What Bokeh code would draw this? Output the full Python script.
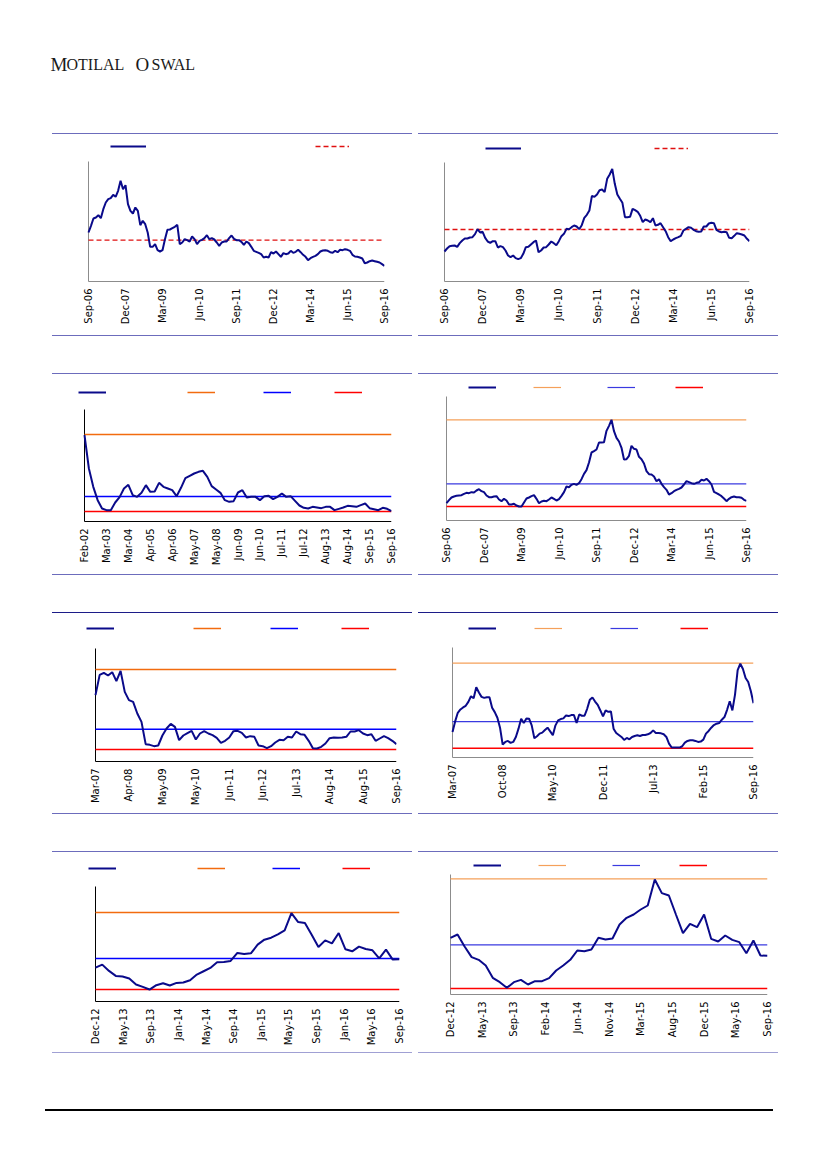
import math
from bokeh.plotting import figure
from bokeh.models import Range1d, FixedTicker, Legend, LegendItem, Spacer, LinearAxis
from bokeh.layouts import column, row
from bokeh.core.properties import value
from bokeh.embed import file_html
from bokeh.resources import INLINE

# ---------------- data ----------------
ticks_sep06 = ["Sep-06", "Dec-07", "Mar-09", "Jun-10", "Sep-11", "Dec-12", "Mar-14", "Jun-15", "Sep-16"]
ticks_p3 = ["Feb-02", "Mar-03", "Mar-04", "Apr-05", "Apr-06", "May-07", "May-08", "Jun-09", "Jun-10",
            "Jul-11", "Jul-12", "Aug-13", "Aug-14", "Sep-15", "Sep-16"]
ticks_p5 = ["Mar-07", "Apr-08", "May-09", "May-10", "Jun-11", "Jun-12", "Jul-13", "Aug-14", "Aug-15", "Sep-16"]
ticks_p6 = ["Mar-07", "Oct-08", "May-10", "Dec-11", "Jul-13", "Feb-15", "Sep-16"]
ticks_p7 = ["Dec-12", "May-13", "Sep-13", "Jan-14", "May-14", "Sep-14", "Jan-15", "May-15", "Sep-15",
            "Jan-16", "May-16", "Sep-16"]
ticks_p8 = ["Dec-12", "May-13", "Sep-13", "Feb-14", "Jun-14", "Nov-14", "Mar-15", "Aug-15", "Dec-15",
            "May-16", "Sep-16"]

p1_values = [147, 167, 189, 192, 199, 190, 217, 237, 247, 250,
             260, 254, 272, 302, 277, 289, 232, 212, 204, 222,
             212, 169, 182, 172, 147, 104, 104, 112, 94, 90,
             94, 127, 155, 156, 160, 164, 170, 112, 117, 127,
             124, 120, 135, 127, 112, 122, 125, 130, 139, 127,
             130, 126, 117, 107, 117, 120, 120, 130, 138, 128,
             124, 124, 119, 110, 120, 115, 104, 92, 89, 86,
             82, 72, 74, 72, 88, 84, 90, 82, 74, 85,
             82, 84, 92, 86, 89, 95, 88, 80, 74, 64,
             70, 74, 77, 82, 90, 93, 94, 92, 88, 86,
             92, 88, 95, 94, 97, 95, 92, 80, 75, 74,
             72, 69, 55, 57, 61, 63, 61, 59, 57, 52,
             47]
p1_avg = 124

p2_values = [90, 99, 106, 107, 108, 104, 115, 123, 129, 129,
             132, 133, 142, 157, 147, 149, 131, 120, 116, 121,
             121, 102, 106, 103, 93, 78, 73, 78, 70, 67,
             70, 83, 103, 104, 111, 118, 123, 88, 93, 102,
             103, 111, 120, 115, 109, 121, 136, 143, 158, 157,
             163, 168, 165, 157, 169, 191, 200, 213, 257, 254,
             261, 274, 276, 268, 308, 321, 338, 293, 261, 248,
             236, 193, 193, 194, 218, 214, 209, 197, 178, 186,
             183, 178, 190, 168, 170, 175, 163, 151, 133, 121,
             126, 130, 133, 137, 153, 158, 163, 161, 155, 151,
             149, 150, 165, 165, 174, 176, 175, 155, 150, 148,
             149, 148, 131, 130, 137, 145, 143, 141, 138, 128,
             121]
p2_avg = 156

p3_values = [259, 159, 104, 64, 39, 34, 34, 57, 73, 99,
             110, 79, 74, 86, 109, 89, 90, 116, 104, 99,
             94, 76, 101, 130, 137, 144, 149, 152, 134, 106,
             96, 86, 64, 59, 61, 87, 94, 72, 74, 74,
             64, 76, 77, 67, 74, 84, 74, 76, 62, 48,
             41, 39, 44, 42, 40, 44, 44, 34, 38, 42,
             47, 46, 44, 49, 54, 40, 37, 34, 41, 38,
             31]
p3_max, p3_avg, p3_min = 261, 75, 30

p4_values = [52, 61, 69, 72, 74, 75, 76, 80, 83, 82,
             85, 84, 90, 94, 88, 85, 75, 70, 70, 72,
             73, 63, 58, 65, 60, 48, 48, 50, 45, 42,
             42, 54, 66, 69, 73, 76, 65, 52, 57, 59,
             58, 63, 69, 65, 60, 64, 74, 85, 102, 100,
             107, 110, 107, 112, 124, 140, 151, 174, 204, 208,
             213, 234, 234, 235, 269, 284, 302, 268, 248, 237,
             218, 183, 184, 194, 224, 215, 213, 191, 184, 171,
             148, 139, 138, 132, 118, 124, 110, 100, 92, 78,
             82, 88, 92, 95, 99, 108, 118, 115, 112, 110,
             113, 115, 122, 120, 125, 118, 108, 86, 82, 78,
             73, 66, 58, 65, 70, 72, 70, 70, 68, 62,
             59]
p4_max, p4_avg, p4_min = 302, 110, 42

p5_values = [199, 260, 266, 258, 268, 241, 272, 209, 184, 179,
             144, 119, 52, 50, 46, 48, 78, 99, 113, 104,
             64, 78, 85, 92, 66, 84, 91, 84, 79, 71,
             56, 62, 72, 91, 92, 86, 72, 76, 74, 48,
             46, 40, 46, 57, 65, 64, 74, 72, 90, 82,
             80, 62, 40, 39, 44, 54, 70, 72, 71, 72,
             74, 90, 90, 94, 84, 79, 82, 62, 69, 76,
             70, 62, 52]
p5_max, p5_avg, p5_min = 276, 97, 36

p6_values = [77, 109, 135, 145, 151, 156, 168, 185, 179, 212,
             196, 183, 180, 182, 182, 150, 137, 120, 90, 39,
             47, 50, 44, 47, 62, 87, 117, 104, 118, 117,
             97, 58, 64, 72, 75, 83, 90, 79, 67, 97,
             112, 116, 118, 127, 125, 128, 128, 104, 130, 126,
             126, 147, 174, 181, 169, 159, 142, 124, 142, 138,
             139, 87, 74, 68, 62, 53, 59, 55, 62, 65,
             67, 65, 68, 68, 70, 74, 82, 74, 74, 73,
             70, 62, 42, 30, 30, 30, 30, 34, 45, 50,
             52, 52, 50, 47, 48, 54, 72, 80, 90, 98,
             102, 104, 114, 122, 144, 170, 142, 190, 264, 283,
             267, 240, 228, 200, 164]
p6_max, p6_avg, p6_min = 285, 108, 28

p7_values = [102, 111, 92, 77, 75, 69, 51, 44, 36, 49,
             55, 48, 56, 57, 64, 81, 91, 101, 118, 119,
             122, 146, 143, 145, 171, 186, 192, 202, 214, 266,
             239, 236, 201, 164, 184, 175, 206, 157, 151, 165,
             158, 154, 130, 156, 126, 127]
p7_max, p7_avg, p7_min = 268, 129, 36

p8_values = [170, 180, 144, 112, 104, 87, 50, 37, 20, 37,
             44, 30, 40, 40, 49, 72, 87, 104, 132, 130,
             135, 170, 165, 168, 210, 230, 240, 255, 267, 345,
             304, 297, 240, 184, 212, 202, 240, 167, 159, 177,
             164, 157, 124, 162, 117, 116]
p8_max, p8_avg, p8_min = 347, 149, 18

# ---------------- styling ----------------
NAVY = "#0a0a8a"
ORANGE_L, BLUE_L, RED = "#f26b0f", "#0000ff", "#ff0000"
ORANGE_R, BLUE_R = "#f5a05a", "#3a3ae0"
SEP = "#6c6cbc"
SEP_DARK = "#1c1c88"
FONT = "DejaVu Sans"


def make_panel(values, xs, ticks_pos, tick_labels, ytop, fig_box, chart_box,
               axis_color, refs, leg_y, leg_specs):
    fx, fy, fw, fh = fig_box
    ax_l, ax_r, ax_t, ax_b = chart_box
    # frame covers the chart plus the legend row above it
    fr_l = min([ax_l] + [lx for lx, _ in leg_specs]) - 2
    fr_r = ax_r
    fr_t = leg_y - 4
    fr_b = ax_b + 2
    upp_x = (xs[-1] - xs[0]) / (ax_r - ax_l)
    upp_y = ytop / (ax_b - ax_t)
    p = figure(width=fw, height=fh, output_backend="svg", toolbar_location=None,
               x_range=Range1d(xs[0] - (ax_l - fr_l) * upp_x, xs[-1]),
               y_range=Range1d(-(fr_b - ax_b) * upp_y, (ax_b - fr_t) * upp_y),
               min_border_left=fr_l - fx, min_border_right=fx + fw - fr_r,
               min_border_top=fr_t - fy, min_border_bottom=fy + fh - fr_b,
               x_axis_type=None, y_axis_type=None)
    p.outline_line_color = None
    p.background_fill_color = "white"
    xa = LinearAxis(ticker=FixedTicker(ticks=ticks_pos),
                    major_label_overrides={t: lab for t, lab in zip(ticks_pos, tick_labels)},
                    major_tick_in=0, major_tick_out=0, minor_tick_in=0, minor_tick_out=0,
                    major_label_orientation=math.pi / 2, major_label_standoff=5,
                    axis_line_color=None,
                    major_label_text_font=FONT, major_label_text_font_size="10px",
                    major_label_text_color="#000000")
    p.add_layout(xa, "below")
    # axis lines of the chart area
    p.segment(x0=[xs[0], xs[0]], y0=[0, 0], x1=[xs[0], xs[-1]], y1=[ytop, 0],
              line_color=axis_color, line_width=1)

    rends = []
    for level, color, lw, dash in refs:
        r = p.line([xs[0], xs[-1]], [level, level], line_color=color, line_width=lw, line_dash=dash)
        rends.append(r)
    main = p.line(xs, values, line_color=NAVY, line_width=2)
    order = [main] + rends
    for r, (lx, gw) in zip(order, leg_specs):
        lg = Legend(items=[LegendItem(label=value(""), renderers=[r])],
                    location=(lx - fr_l, fr_b - leg_y - 2),
                    orientation="horizontal", glyph_width=gw, glyph_height=4,
                    label_width=0, label_height=4, label_standoff=0, padding=0, margin=0,
                    spacing=0, border_line_color=None, background_fill_alpha=0,
                    label_text_font_size="1px")
        p.add_layout(lg, "center")
    return p


# x positions
x_p1 = list(range(len(p1_values)))
x_p2 = list(range(len(p2_values)))
x_p4 = list(range(len(p4_values)))
x_p6 = list(range(len(p6_values)))
x_p3 = [i / 5 for i in range(len(p3_values))]
x_p5 = [i / 8 for i in range(len(p5_values))]
x_p7 = [i * (len(ticks_p7) - 1) / (len(p7_values) - 1) for i in range(len(p7_values))]
x_p8 = [i * (len(ticks_p8) - 1) / (len(p8_values) - 1) for i in range(len(p8_values))]

t15 = list(range(0, 121, 15))
t19 = list(range(0, 115, 19))

GRAY = "#8c8c8c"
p1 = make_panel(p1_values, x_p1, t15, ticks_sep06, 360, (52, 134, 360, 201), (88, 384, 161, 281), GRAY,
                [(p1_avg, "#e01010", 1.3, "5 3")], 146, [(110, 36), (315, 34)])
p2 = make_panel(p2_values, x_p2, t15, ticks_sep06, 357, (418, 134, 360, 201), (444, 749, 162, 281), GRAY,
                [(p2_avg, "#e01010", 1.3, "5 3")], 148, [(485, 36), (654, 34)])
p3 = make_panel(p3_values, x_p3, list(range(15)), ticks_p3, 336, (52, 374, 360, 200), (84, 391, 409, 521),
                "#000000",
                [(p3_max, ORANGE_L, 1.5, "solid"), (p3_avg, BLUE_L, 1.5, "solid"), (p3_min, RED, 1.5, "solid")],
                392, [(78, 28), (187, 28), (263, 28), (334, 28)])
p4 = make_panel(p4_values, x_p4, t15, ticks_sep06, 372, (418, 374, 360, 200), (446, 746, 396, 520), GRAY,
                [(p4_max, ORANGE_R, 1.2, "solid"), (p4_avg, BLUE_R, 1.2, "solid"), (p4_min, RED, 1.5, "solid")],
                387, [(468, 28), (533, 28), (607, 28), (675, 28)])
p5 = make_panel(p5_values, x_p5, list(range(10)), ticks_p5, 339, (52, 613, 360, 200), (95, 396, 648, 761),
                "#000000",
                [(p5_max, ORANGE_L, 1.5, "solid"), (p5_avg, BLUE_L, 1.5, "solid"), (p5_min, RED, 1.5, "solid")],
                628, [(86, 28), (193, 28), (270, 28), (341, 28)])
p6 = make_panel(p6_values, x_p6, t19, ticks_p6, 332, (418, 613, 360, 200), (452, 753, 647, 757), GRAY,
                [(p6_max, ORANGE_R, 1.2, "solid"), (p6_avg, BLUE_R, 1.2, "solid"), (p6_min, RED, 1.5, "solid")],
                628, [(468, 28), (534, 28), (610, 28), (680, 28)])
p7 = make_panel(p7_values, x_p7, list(range(12)), ticks_p7, 346, (52, 852, 360, 200), (95, 399, 886, 1001),
                "#000000",
                [(p7_max, ORANGE_L, 1.5, "solid"), (p7_avg, BLUE_L, 1.5, "solid"), (p7_min, RED, 1.5, "solid")],
                868, [(88, 28), (197, 28), (272, 28), (342, 28)])
p8 = make_panel(p8_values, x_p8, list(range(11)), ticks_p8, 360, (418, 852, 360, 200), (450, 767, 874, 994),
                GRAY,
                [(p8_max, ORANGE_R, 1.2, "solid"), (p8_avg, BLUE_R, 1.2, "solid"), (p8_min, RED, 1.5, "solid")],
                865, [(473, 28), (538, 28), (612, 28), (679, 28)])

# ---------------- header ----------------
hdr = figure(width=811, height=133, output_backend="svg", toolbar_location=None,
             x_range=Range1d(0, 811), y_range=Range1d(133, 0), min_border=0,
             x_axis_type=None, y_axis_type=None)
hdr.outline_line_color = None
hdr.grid.visible = False
big = ["M", "O"]
small = ["OTILAL", "SWAL"]
hdr.text(x=[50, 135], y=[64, 64], text=big, text_font=value("Liberation Serif"),
         text_font_size="19px", text_baseline="alphabetic", text_color="#1a1a1a")
hdr.text(x=[66, 151], y=[64, 64], text=small, text_font=value("Liberation Serif"),
         text_font_size="16px", text_baseline="alphabetic", text_color="#1a1a1a")


def sep(color=SEP, h=1):
    return Spacer(width=360, height=h, styles={"background-color": color})


def panel_row(pl, pr, top_color=SEP, bottom_color=SEP):
    return row(Spacer(width=52, height=10),
               column(sep(top_color), pl, sep(bottom_color)),
               Spacer(width=6, height=10),
               column(sep(top_color), pr, sep(bottom_color)))


page = column(
    hdr,
    panel_row(p1, p2),
    Spacer(width=10, height=37),
    panel_row(p3, p4),
    Spacer(width=10, height=37),
    panel_row(p5, p6, top_color=SEP_DARK),
    Spacer(width=10, height=37),
    panel_row(p7, p8, bottom_color="#a0a0d4"),
    Spacer(width=10, height=56),
    row(Spacer(width=45, height=2), Spacer(width=728, height=2, styles={"background-color": "#000000"})),
)

open("out.html", "w").write(file_html(page, INLINE))
